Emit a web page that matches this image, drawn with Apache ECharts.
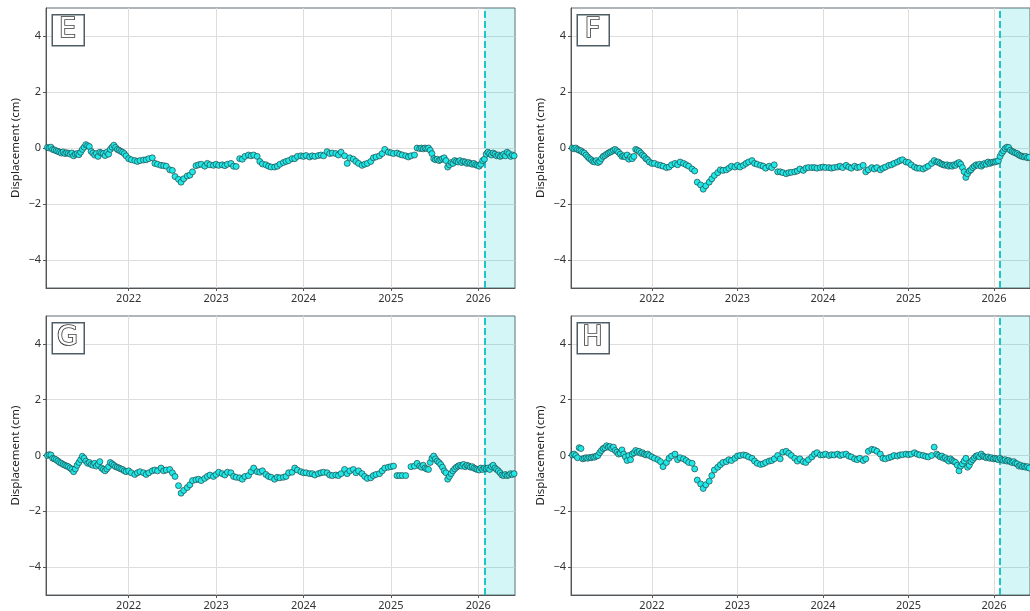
<!DOCTYPE html>
<html>
<head>
<meta charset="utf-8">
<script src="https://cdn.jsdelivr.net/npm/echarts@6/dist/echarts.min.js"></script>
<style>html,body{margin:0;padding:0;background:#fff;}#c{width:1030px;height:611px;}</style>
</head>
<body>
<div id="c"></div>
<script>
// ---------- data ----------
const panelLetters = ['E', 'F', 'G', 'H'];
const yearTicks = [2022, 2023, 2024, 2025, 2026];
const yTicks = [-4, -2, 0, 2, 4];
const xRange = [2021.054, 2026.42];
const yRange = [-5, 5];
const forecastStart = 2026.067;

const datesA = [2021.07,2021.09,2021.11,2021.13,2021.15,2021.17,2021.19,2021.21,2021.23,2021.25,
  2021.27,2021.29,2021.31,2021.33,2021.35,2021.37,2021.39,2021.41,2021.43,2021.45,
  2021.47,2021.49,2021.51,2021.53,2021.55,2021.57,2021.59,2021.61,2021.63,2021.65,
  2021.67,2021.69,2021.71,2021.73,2021.75,2021.77,2021.79,2021.81,2021.83,2021.85,
  2021.87,2021.89,2021.91,2021.93,2021.95,2021.97];
const datesB = [
  2022.00,2022.03,2022.07,2022.10,2022.13,2022.17,2022.20,2022.23,2022.27,2022.30,
  2022.33,2022.37,2022.40,2022.43,2022.47,2022.50,2022.53,2022.57,2022.60,2022.63,
  2022.67,2022.70,2022.73,2022.77,2022.80,2022.83,2022.87,2022.90,2022.93,2022.97,
  2023.00,2023.03,2023.07,2023.10,2023.13,2023.17,2023.20,2023.23,2023.27,2023.30,
  2023.33,2023.37,2023.40,2023.43,2023.47,2023.50,2023.53,2023.57,2023.60,2023.63,
  2023.67,2023.70,2023.73,2023.77,2023.80,2023.83,2023.87,2023.90,2023.93,2023.97,
  2024.00,2024.03,2024.07,2024.10,2024.13,2024.17,2024.20,2024.23,2024.27,2024.30,
  2024.33,2024.37,2024.40,2024.43,2024.47,2024.50,2024.53,2024.57,2024.60,2024.63,
  2024.67,2024.70,2024.73,2024.77,2024.80,2024.83,2024.87,2024.90,2024.93,2024.97,
  2025.00,2025.03,2025.07,2025.10,2025.13,2025.17,2025.20,2025.23,2025.27,2025.30,2025.33];
const datesC = [
  2025.35,2025.37,2025.39,2025.41,2025.43,2025.45,2025.47,2025.49,2025.51,2025.53,
  2025.55,2025.57,2025.59,2025.61,2025.63,2025.65,2025.67,2025.69,2025.71,2025.73,
  2025.75,2025.77,2025.79,2025.81,2025.83,2025.85,2025.87,2025.89,2025.91,2025.93,
  2025.95,2025.97,2025.99,
  2026.01,2026.03,2026.05,2026.07,2026.09,2026.11,2026.13,2026.15,2026.17,2026.19,
  2026.21,2026.23,2026.25,2026.27,2026.29,2026.31,2026.33,2026.35,2026.37,2026.39,2026.41];

const valuesE = [
  // 2021
  0.02,0.00,0.03,-0.05,-0.07,-0.10,-0.12,-0.15,-0.18,-0.14,
  -0.20,-0.17,-0.19,-0.22,-0.18,-0.28,-0.22,-0.20,-0.24,-0.15,
  -0.05,0.03,0.12,0.08,0.05,-0.12,-0.18,-0.25,-0.20,-0.30,
  -0.15,-0.18,-0.20,-0.27,-0.15,-0.22,-0.05,0.03,0.10,0.02,
  -0.05,-0.08,-0.12,-0.15,-0.20,-0.28,
  // 2022
  -0.38,-0.42,-0.45,-0.48,-0.45,-0.43,-0.42,-0.38,-0.35,-0.55,
  -0.58,-0.62,-0.63,-0.65,-0.78,-0.80,-1.02,-1.12,-1.22,-1.10,
  -1.00,-0.97,-0.85,-0.63,-0.60,-0.58,-0.65,-0.55,-0.60,-0.62,
  // 2023
  -0.58,-0.62,-0.60,-0.63,-0.58,-0.55,-0.65,-0.66,-0.38,-0.40,
  -0.30,-0.25,-0.28,-0.25,-0.30,-0.48,-0.57,-0.60,-0.65,-0.68,
  -0.68,-0.65,-0.58,-0.52,-0.48,-0.45,-0.38,-0.38,-0.30,-0.28,
  // 2024
  -0.30,-0.27,-0.32,-0.28,-0.30,-0.27,-0.25,-0.28,-0.13,-0.20,
  -0.18,-0.20,-0.25,-0.15,-0.28,-0.55,-0.35,-0.40,-0.48,-0.55,
  -0.62,-0.58,-0.55,-0.48,-0.35,-0.32,-0.28,-0.20,-0.05,-0.15,
  // 2025 early
  -0.17,-0.20,-0.18,-0.22,-0.25,-0.28,-0.32,-0.28,-0.25,0.00,-0.02,
  // 2025.35 - 2026.41
  0.00,-0.03,0.00,-0.02,0.00,-0.08,-0.20,-0.38,-0.42,-0.40,
  -0.45,-0.42,-0.38,-0.35,-0.45,-0.68,-0.60,-0.52,-0.55,-0.45,
  -0.48,-0.50,-0.45,-0.52,-0.48,-0.50,-0.55,-0.52,-0.55,-0.58,
  -0.55,-0.60,-0.62,
  -0.65,-0.58,-0.45,-0.40,-0.22,-0.15,-0.20,-0.25,-0.18,-0.22,
  -0.28,-0.25,-0.30,-0.27,-0.22,-0.28,-0.15,-0.20,-0.30,-0.25,-0.28];

const valuesF = [
  0.00,-0.03,0.00,-0.05,-0.08,-0.10,-0.15,-0.18,-0.25,-0.32,
  -0.38,-0.42,-0.48,-0.50,-0.45,-0.52,-0.48,-0.38,-0.30,-0.27,
  -0.22,-0.18,-0.15,-0.12,-0.08,-0.05,-0.10,-0.15,-0.22,-0.30,
  -0.28,-0.32,-0.25,-0.40,-0.32,-0.38,-0.30,-0.05,-0.08,-0.12,
  -0.18,-0.25,-0.30,-0.38,-0.42,-0.50,
  -0.55,-0.55,-0.60,-0.62,-0.65,-0.70,-0.68,-0.60,-0.55,-0.60,
  -0.50,-0.55,-0.60,-0.65,-0.75,-0.82,-1.22,-1.32,-1.47,-1.35,
  -1.22,-1.10,-0.98,-0.88,-0.78,-0.80,-0.78,-0.72,-0.65,-0.68,
  -0.62,-0.68,-0.62,-0.55,-0.50,-0.45,-0.55,-0.58,-0.62,-0.65,
  -0.72,-0.65,-0.70,-0.60,-0.85,-0.85,-0.88,-0.92,-0.88,-0.87,
  -0.85,-0.82,-0.75,-0.80,-0.72,-0.70,-0.70,-0.70,-0.72,-0.70,
  -0.68,-0.70,-0.70,-0.72,-0.70,-0.68,-0.65,-0.70,-0.62,-0.68,
  -0.72,-0.65,-0.70,-0.68,-0.62,-0.85,-0.78,-0.70,-0.75,-0.70,
  -0.78,-0.72,-0.68,-0.62,-0.60,-0.55,-0.50,-0.45,-0.42,-0.50,
  -0.52,-0.60,-0.68,-0.72,-0.72,-0.75,-0.70,-0.65,-0.55,-0.45,-0.50,
  -0.50,-0.55,-0.58,-0.60,-0.62,-0.60,-0.65,-0.62,-0.65,-0.60,
  -0.62,-0.55,-0.52,-0.58,-0.70,-0.85,-1.05,-0.92,-0.82,-0.78,
  -0.70,-0.65,-0.60,-0.62,-0.58,-0.65,-0.60,-0.55,-0.58,-0.50,
  -0.55,-0.52,-0.50,
  -0.50,-0.48,-0.45,-0.30,-0.18,-0.10,-0.02,0.03,0.02,-0.08,
  -0.12,-0.15,-0.18,-0.20,-0.25,-0.28,-0.30,-0.32,-0.30,-0.35,-0.33];

const valuesG = [
  0.00,0.03,0.02,-0.10,-0.12,-0.15,-0.20,-0.25,-0.28,-0.32,
  -0.35,-0.38,-0.40,-0.45,-0.50,-0.58,-0.48,-0.35,-0.25,-0.15,
  -0.03,-0.10,-0.20,-0.28,-0.25,-0.32,-0.35,-0.28,-0.38,-0.32,
  -0.22,-0.45,-0.50,-0.55,-0.48,-0.40,-0.25,-0.30,-0.35,-0.40,
  -0.42,-0.45,-0.48,-0.50,-0.55,-0.58,
  -0.55,-0.62,-0.68,-0.62,-0.58,-0.62,-0.68,-0.62,-0.55,-0.52,
  -0.55,-0.45,-0.55,-0.52,-0.50,-0.62,-0.75,-1.08,-1.35,-1.25,
  -1.15,-1.05,-0.90,-0.87,-0.85,-0.90,-0.82,-0.75,-0.70,-0.75,
  -0.68,-0.60,-0.65,-0.70,-0.60,-0.62,-0.75,-0.78,-0.80,-0.85,
  -0.75,-0.72,-0.58,-0.45,-0.58,-0.60,-0.55,-0.68,-0.75,-0.78,
  -0.85,-0.78,-0.80,-0.78,-0.75,-0.62,-0.60,-0.45,-0.52,-0.58,
  -0.62,-0.62,-0.65,-0.65,-0.70,-0.65,-0.62,-0.60,-0.62,-0.70,
  -0.72,-0.70,-0.72,-0.65,-0.50,-0.65,-0.55,-0.50,-0.62,-0.55,
  -0.65,-0.75,-0.82,-0.80,-0.72,-0.68,-0.65,-0.55,-0.45,-0.42,
  -0.40,-0.38,-0.72,-0.72,-0.72,-0.72,null,-0.40,-0.38,-0.28,-0.38,
  -0.42,-0.35,-0.45,-0.48,-0.50,-0.25,-0.10,-0.02,-0.12,-0.20,
  -0.25,-0.32,-0.42,-0.55,-0.62,-0.85,-0.75,-0.65,-0.55,-0.48,
  -0.42,-0.38,-0.35,-0.38,-0.32,-0.40,-0.35,-0.38,-0.42,-0.40,
  -0.45,-0.48,-0.50,
  -0.52,-0.45,-0.50,-0.45,-0.48,-0.45,-0.50,-0.40,-0.35,-0.45,
  -0.50,-0.55,-0.62,-0.70,-0.72,-0.68,-0.72,-0.70,-0.65,-0.68,-0.65];

const valuesH = [
  0.02,0.05,0.00,-0.08,0.28,0.25,-0.12,-0.10,-0.08,-0.10,
  -0.07,-0.08,-0.05,-0.06,-0.02,0.00,0.10,0.18,0.25,0.28,
  0.35,0.30,0.32,0.25,0.30,0.18,0.12,0.05,0.08,0.20,
  0.05,-0.05,-0.18,0.00,-0.15,0.05,0.10,0.18,0.12,0.15,
  0.08,0.10,0.05,0.02,0.05,0.00,
  -0.05,-0.10,-0.15,-0.22,-0.40,-0.25,-0.10,-0.02,0.05,-0.15,
  -0.08,-0.12,-0.18,-0.25,-0.28,-0.48,-0.88,-1.02,-1.18,-1.05,
  -0.92,-0.72,-0.52,-0.42,-0.33,-0.25,-0.22,-0.15,-0.18,-0.10,
  -0.02,0.00,0.02,0.00,-0.05,-0.10,-0.20,-0.28,-0.32,-0.30,
  -0.25,-0.20,-0.18,-0.12,0.00,-0.12,0.12,0.15,0.08,0.00,
  -0.10,-0.20,-0.12,-0.22,-0.25,-0.15,-0.05,0.05,0.10,0.02,
  0.02,0.05,0.00,0.03,0.02,0.05,0.00,0.03,0.05,-0.02,
  -0.05,-0.12,-0.15,-0.10,-0.18,-0.12,0.15,0.22,0.20,0.15,
  0.05,-0.10,-0.12,-0.08,-0.05,0.00,-0.02,0.02,0.03,0.05,
  0.03,0.05,0.10,0.05,0.02,0.00,-0.03,-0.05,0.00,0.30,0.05,
  0.00,-0.05,-0.02,-0.10,-0.08,-0.15,-0.20,-0.12,-0.18,-0.22,
  -0.25,-0.35,-0.55,-0.38,-0.30,-0.20,-0.10,-0.42,-0.35,-0.22,
  -0.15,-0.08,-0.02,0.00,-0.05,0.05,-0.02,-0.05,-0.08,-0.05,
  -0.10,-0.08,-0.12,
  -0.10,-0.12,-0.15,-0.10,-0.15,-0.18,-0.15,-0.20,-0.18,-0.22,
  -0.25,-0.22,-0.28,-0.30,-0.38,-0.35,-0.40,-0.38,-0.42,-0.40,-0.45];

const dates = datesA.concat(datesB, datesC);
const panelValues = [valuesE, valuesF, valuesG, valuesH];

// ---------- layout ----------
const gridPos = [
  { left: 46, top: 8 },
  { left: 571, top: 8 },
  { left: 46, top: 316 },
  { left: 571, top: 316 }
];
const GW = 469, GH = 280;
const FONT = '"Noto Sans", "Open Sans", sans-serif';
const fmtY = v => (v < 0 ? '\u2212' + Math.abs(v) : String(v));

const grid = [], xAxis = [], yAxis = [], series = [], graphic = [];
panelLetters.forEach((letter, i) => {
  const p = gridPos[i];
  grid.push({ left: p.left, top: p.top, width: GW, height: GH, show: true,
    borderColor: '#5f6a70', borderWidth: 1, backgroundColor: '#fff' });
  xAxis.push({
    gridIndex: i, type: 'value', min: xRange[0], max: xRange[1],
    axisLine: { show: true, onZero: false, lineStyle: { color: '#555', width: 1 } },
    axisTick: { show: true, customValues: yearTicks, length: 3, lineStyle: { color: '#555' } },
    axisLabel: { customValues: yearTicks, formatter: v => String(v), color: '#333',
      fontSize: 11, fontFamily: FONT, margin: 5 },
    splitLine: { show: true, lineStyle: { color: '#dddddd', width: 1 } }
  });
  yAxis.push({
    gridIndex: i, type: 'value', min: yRange[0], max: yRange[1],
    name: 'Displacement (cm)', nameLocation: 'middle', nameGap: 24,
    nameTextStyle: { color: '#222', fontSize: 11.5, fontFamily: FONT },
    axisLine: { show: true, onZero: false, lineStyle: { color: '#555', width: 1 } },
    axisTick: { show: true, customValues: yTicks, length: 3, lineStyle: { color: '#555' } },
    axisLabel: { customValues: yTicks, formatter: fmtY, color: '#333',
      fontSize: 11, fontFamily: FONT, margin: 5 },
    splitLine: { show: true, lineStyle: { color: '#dddddd', width: 1 } }
  });
  // forecast shading + dashed marker
  series.push({
    type: 'line', xAxisIndex: i, yAxisIndex: i, data: [], z: 1, silent: true,
    markArea: { silent: true, itemStyle: { color: 'rgba(0,200,200,0.17)' },
      data: [[{ xAxis: forecastStart }, { xAxis: xRange[1] }]] },
    markLine: { silent: true, symbol: ['none', 'none'], label: { show: false },
      lineStyle: { color: '#1fc6c9', width: 2, type: [7, 3] },
      data: [{ xAxis: forecastStart }] }
  });
  const vals = panelValues[i];
  const pts = [];
  dates.forEach((d, k) => { if (vals[k] !== null && vals[k] !== undefined) pts.push([d, vals[k]]); });
  series.push({
    type: 'scatter', xAxisIndex: i, yAxisIndex: i, data: pts, z: 5,
    symbolSize: 6,
    itemStyle: { color: '#1fe8e8', borderColor: '#1f4646', borderWidth: 0.7, opacity: 1 }
  });
  graphic.push({
    type: 'rect', left: p.left + 5.5, top: p.top + 6,
    shape: { width: 32, height: 31 },
    style: { fill: '#fff', stroke: '#4f5d66', lineWidth: 1.5 }, z: 10
  });
  graphic.push({
    type: 'text', x: p.left + 21.5, y: p.top + 22,
    style: { text: letter, fill: '#fff', stroke: '#333', lineWidth: 1.6,
      font: 'normal 27px "DejaVu Sans", sans-serif', align: 'center', verticalAlign: 'middle' },
    z: 11
  });
});

const chart = echarts.init(document.getElementById('c'), null, { renderer: 'canvas' });
chart.setOption({ animation: false, backgroundColor: '#fff', grid, xAxis, yAxis, series, graphic });
</script>
</body>
</html>
